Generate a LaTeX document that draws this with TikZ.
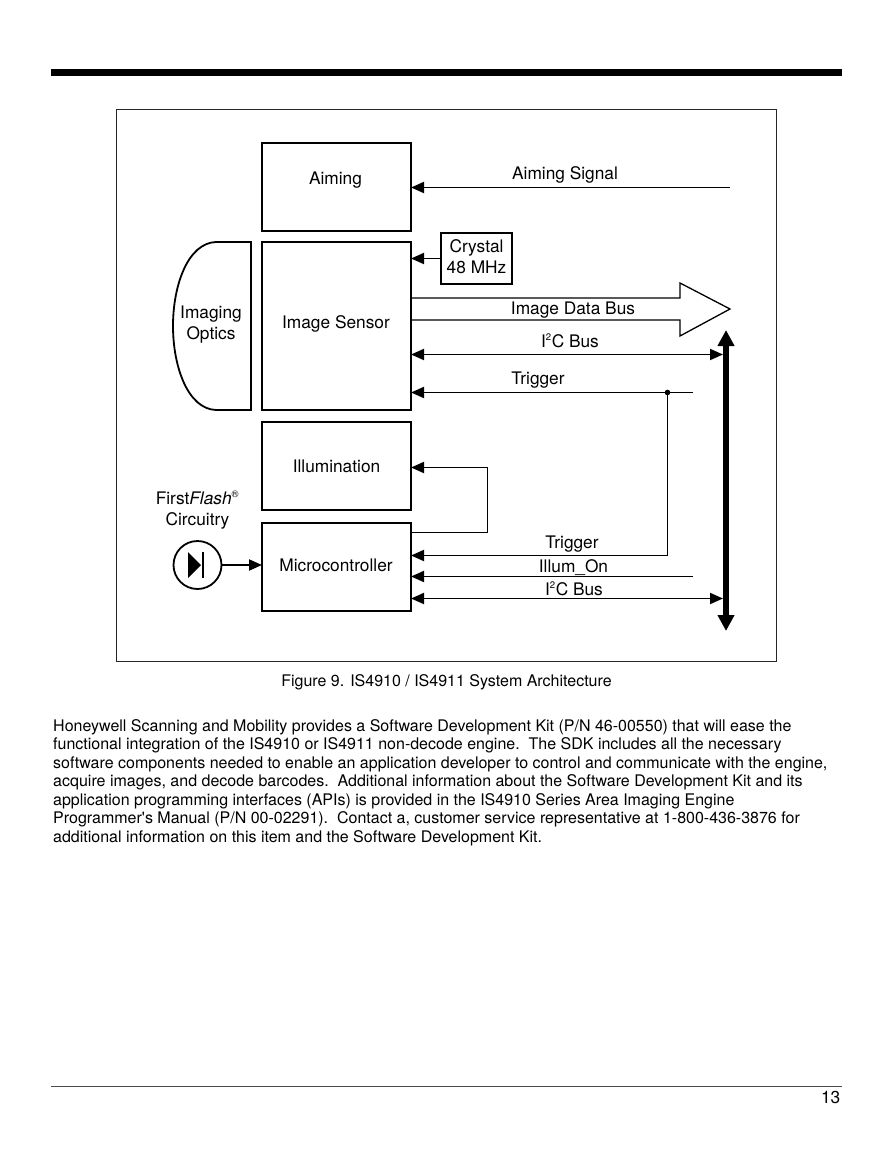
\documentclass[tikz,border=0pt]{standalone}
\usepackage{fontspec}
\setmainfont{TeX Gyre Heros}
\newfontfamily\straightfont{TeX Gyre Heros}
\usetikzlibrary{arrows.meta, positioning, calc}
\newcommand{\smallsup}[1]{\textsuperscript{\fontsize{9.5}{9.5}\selectfont #1}}
\tikzset{
  >={Triangle[length=13pt,width=11pt]},
  block/.style = {draw, line width=1.8pt, inner sep=0pt, outer sep=0pt},
  sigLabel/.style = {inner sep=0pt, anchor=base, font=\fontsize{17.3}{21}\selectfont, align=center},
  sigLine/.style = {line width=1.9pt},
  bodyText/.style = {inner sep=0pt, anchor=north west, align=left, font=\fontsize{16}{18.5}\selectfont}
}

\begin{document}
\begin{tikzpicture}[x=1pt,y=-1pt]
  \useasboundingbox (0,0) rectangle (892,1155);

  % page furniture
  \fill (51,69.5) rectangle (842,76.5);
  \draw[line width=0.8pt, black!70] (51,1086) -- (842,1086);
  \node[sigLabel, anchor=base east] (pageNo) at (840.5,1103) {13};

  \draw[line width=1pt, black!85] (116.5,110) rectangle (776.5,661);

  % blocks
  \node[block, minimum width=149pt, minimum height=88pt] (aiming) at (336.5,187) {};
  \node[block, minimum width=149pt, minimum height=168pt] (sensor) at (336.5,326) {};
  \node[block, minimum width=149pt, minimum height=88pt] (illum) at (336.5,466) {};
  \node[block, minimum width=149pt, minimum height=88pt] (micro) at (336.5,567) {};
  \node[block, minimum width=71pt, minimum height=51pt] (crystal) at (476.5,258.5) {};

  \node[sigLabel] (aimingName) at (335.5,185) {Aiming};
  \node[sigLabel] (sensorName) at (336,328.5) {Image Sensor};
  \node[sigLabel] (illumName) at (336.5,472) {Illumination};
  \node[sigLabel] (microName) at (336,571) {Microcontroller};
  \node[sigLabel] (crystalName) at (476.5,252.5) {Crystal};
  \node[sigLabel] (crystalFreq) at (476.5,273.5) {48 MHz};

  \draw[line width=1.8pt] (251,242) -- (216,242) .. controls (188,243) and (173,285) .. (173,326)
    .. controls (173,367) and (188,409) .. (216,410) -- (251,410) -- cycle;
  \node[sigLabel] (opticsA) at (211,318) {Imaging};
  \node[sigLabel] (opticsB) at (211,339) {Optics};

  % diode
  \node[sigLabel] (flashA) at (197.5,504) {First\textit{Flash}\smallsup{®}};
  \node[sigLabel] (flashB) at (197.5,525) {Circuitry};
  \node[draw, circle, line width=1.8pt, minimum size=48pt, inner sep=0pt, outer sep=0pt] (diode) at (197.5,565) {};
  \fill (188,552) -- (201,565) -- (188,578) -- cycle;
  \draw[line width=1.8pt] (203,552) -- (203,578);

  % free ends
  \coordinate (aimEnd) at (730,187.5);
  \coordinate (trigEnd) at (693,392.5);
  \coordinate (trigDot) at (667.5,392.5);
  \coordinate (illumEnd) at (693,576.5);
  \coordinate (busTop) at (726,330);
  \coordinate (busBot) at (726,631);
  \coordinate (fbA) at (487.5,532.5);
  \coordinate (fbB) at (487.5,467.5);
  \coordinate (trigLow) at (667.5,555.5);
  \coordinate (busHigh) at (723,354.5);
  \coordinate (busLow) at (723,598.5);

  % connectors
  \draw[sigLine, ->] (aimEnd) -- (aimEnd -| aiming.east);
  \draw[sigLine, ->] (crystal.west) -- (crystal.west -| sensor.east);
  \draw[sigLine, <->] (busHigh -| sensor.east) -- (busHigh);
  \draw[sigLine, ->] (trigEnd) -- (trigEnd -| sensor.east);
  \draw[sigLine] (trigDot) -- (trigLow);
  \fill (trigDot) circle (2.8pt);
  \draw[sigLine, ->] (trigLow) -- (trigLow -| micro.east);
  \draw[sigLine, ->] (fbA -| micro.east) -- (fbA) -- (fbB) -- (fbB -| illum.east);
  \draw[sigLine, ->] (illumEnd) -- (illumEnd -| micro.east);
  \draw[sigLine, <->] (busLow -| micro.east) -- (busLow);
  \draw[sigLine, ->] (diode.east) -- (diode.east -| micro.west);
  \draw[line width=5.6pt, {Triangle[length=16pt,width=16pt]}-{Triangle[length=16pt,width=16pt]}] (busTop) -- (busBot);

  % data bus outline
  \draw[line width=1.3pt] (sensor.east |- 0,298) -- (680,298) -- (680,283) -- (730,309)
    -- (680,336) -- (680,320) -- (sensor.east |- 0,320);

  % signal names
  \node[sigLabel] (aimLabel) at (565,180) {Aiming Signal};
  \node[sigLabel] (dataLabel) at (573,314.5) {Image Data Bus};
  \node[sigLabel] (i2cTop) at (570,347) {I\smallsup{2}C Bus};
  \node[sigLabel] (trigTop) at (538,384) {Trigger};
  \node[sigLabel] (trigBot) at (572,548) {Trigger};
  \node[sigLabel] (illumLabel) at (573.5,572) {Illum\_On};
  \node[sigLabel] (i2cBot) at (574,595) {I\smallsup{2}C Bus};

  % caption and body
  \node[sigLabel, font=\fontsize{16}{18.5}\selectfont] (caption) at (446.5,686) {Figure 9. IS4910 / IS4911 System Architecture};
  \node[bodyText] (body) at (53,719) {Honeywell Scanning and Mobility provides a Software Development Kit (P/N 46-00550) that will ease the\\
functional integration of the IS4910 or IS4911 non-decode engine.\ \ The SDK includes all the necessary\\
software components needed to enable an application developer to control and communicate with the engine,\\
acquire images, and decode barcodes.\ \ Additional information about the Software Development Kit and its\\
application programming interfaces (APIs) is provided in the IS4910 Series Area Imaging Engine\\
Programmer{\straightfont\symbol{39}}s Manual (P/N 00-02291).\ \ Contact a, customer service representative at 1-800-436-3876 for\\
additional information on this item and the Software Development Kit.};
\end{tikzpicture}
\end{document}
